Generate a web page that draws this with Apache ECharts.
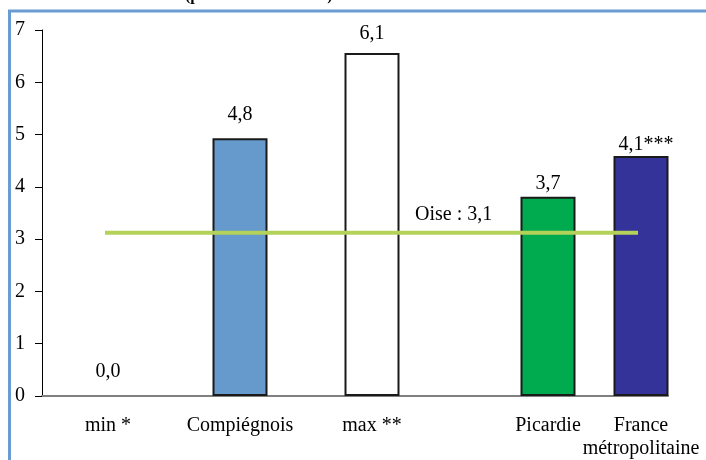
<!DOCTYPE html>
<html>
<head>
<meta charset="utf-8">
<script src="https://cdn.jsdelivr.net/npm/echarts@6/dist/echarts.min.js"></script>
<style>
html,body{margin:0;padding:0;background:#fff;}
#c{width:706px;height:460px;}
</style>
</head>
<body>
<div id="c"></div>
<script>
// ---- data ----
const titleText = '(pour 1000 habitants)';
const categoriesA = ['min *', 'Compiégnois', 'max **'];
const valuesA = [0, 4.93, 6.56];
const labelsA = ['0,0', '4,8', '6,1'];
const categoriesB = ['Picardie', 'France\nmétropolitaine'];
const valuesB = [3.81, 4.59];
const labelsB = ['3,7', '4,1***'];
const oiseEnds = ['min *', 'France métropolitaine'];
const oiseValue = 3.12;
const oiseLabel = 'Oise : 3,1';
const yMin = 0, yMax = 7, yStep = 1;

// ---- styles ----
const FONT = "'Liberation Serif','Times New Roman',serif";
const colorsA = ['#ffffff', '#6699cc', '#ffffff'];
const colorsB = ['#00aa4e', '#333399'];
const labelDistA = [14, 13, 9];
const labelDistB = [3, 1];
const labelOffB = [[0, 0], [5, 0]];

const GT = 30, GH = 366;
const chart = echarts.init(document.getElementById('c'), null, {renderer: 'canvas'});

function hiddenY() {
  return {type: 'value', min: yMin, max: yMax, interval: yStep, show: false};
}
const catLabel = {fontFamily: FONT, fontSize: 20, color: '#000', margin: 18, lineHeight: 23, interval: 0};

chart.setOption({
  animation: false,
  backgroundColor: '#fff',
  title: [
    {text: titleText, left: 185, top: -12, padding: 0,
     textStyle: {fontFamily: FONT, fontSize: 16, fontWeight: 'bold', color: '#000'}},
    {text: oiseLabel, left: 415, top: 205, padding: 0,
     textStyle: {fontFamily: FONT, fontSize: 20, fontWeight: 'normal', color: '#000'}}
  ],
  graphic: [{
    type: 'rect', shape: {x: 9.5, y: 11, width: 740, height: 500},
    style: {fill: 'none', stroke: '#6a9bd3', lineWidth: 3}, silent: true, z: 100
  }],
  grid: [
    {left: 42, top: GT, width: 396, height: GH},
    {left: 501.5, top: GT, width: 186, height: GH},
    {left: 42, top: GT, width: 626, height: GH},
    {left: 105, top: GT, width: 533, height: GH}
  ],
  xAxis: [
    {gridIndex: 0, type: 'category', data: categoriesA, axisLine: {show: false}, axisTick: {show: false}, axisLabel: catLabel},
    {gridIndex: 1, type: 'category', data: categoriesB, axisLine: {show: false}, axisTick: {show: false}, axisLabel: catLabel},
    {gridIndex: 2, type: 'category', data: [''], axisLine: {show: true, lineStyle: {color: '#808080', width: 2}}, axisTick: {show: false}, axisLabel: {show: false}},
    {gridIndex: 3, type: 'category', data: oiseEnds, boundaryGap: false, show: false}
  ],
  yAxis: [
    {gridIndex: 0, type: 'value', min: yMin, max: yMax, interval: yStep,
     axisLine: {show: true, lineStyle: {color: '#000', width: 1}},
     axisTick: {show: true, length: 7, lineStyle: {color: '#000', width: 1}},
     splitLine: {show: false},
     axisLabel: {fontFamily: FONT, fontSize: 20, color: '#000', margin: 17}},
    Object.assign({gridIndex: 1}, hiddenY()),
    Object.assign({gridIndex: 2}, hiddenY()),
    Object.assign({gridIndex: 3}, hiddenY())
  ],
  series: [
    {type: 'bar', xAxisIndex: 0, yAxisIndex: 0, barWidth: 55, z: 3,
     data: valuesA.map((v, i) => ({
       value: v,
       itemStyle: {color: colorsA[i], borderColor: '#1a1a1a', borderWidth: v > 0 ? 2 : 0},
       label: {show: true, position: 'top', distance: labelDistA[i], formatter: labelsA[i],
               fontFamily: FONT, fontSize: 20, color: '#000'}
     }))},
    {type: 'bar', xAxisIndex: 1, yAxisIndex: 1, barWidth: 55, z: 3,
     data: valuesB.map((v, i) => ({
       value: v,
       itemStyle: {color: colorsB[i], borderColor: '#1a1a1a', borderWidth: 2},
       label: {show: true, position: 'top', distance: labelDistB[i], offset: labelOffB[i], formatter: labelsB[i],
               fontFamily: FONT, fontSize: 20, color: '#000'}
     }))},
    {type: 'line', xAxisIndex: 3, yAxisIndex: 3, z: 10, symbol: 'none',
     lineStyle: {color: '#b4d15a', width: 4},
     data: oiseEnds.map(() => oiseValue)}
  ]
});
</script>
</body>
</html>
